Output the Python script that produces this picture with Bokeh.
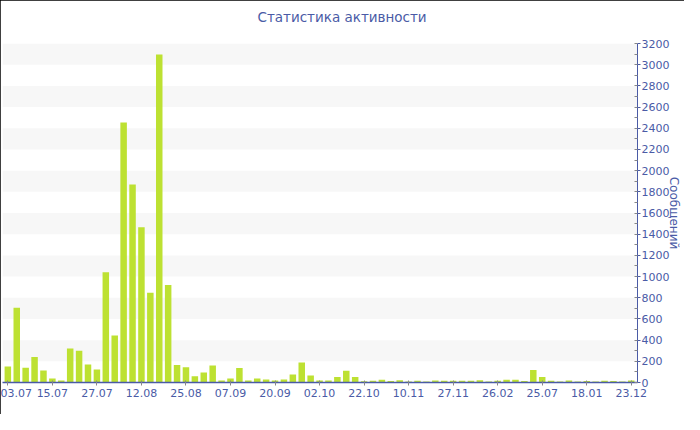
from bokeh.plotting import figure
from bokeh.models import ColumnDataSource, Range1d, FixedTicker, SingleIntervalTicker, Title
from bokeh.embed import file_html
from bokeh.resources import INLINE

# Messages per period
messages = [150, 705, 140, 240, 113, 38, 19, 320, 300, 170,
            123, 1040, 444, 2454, 1870, 1465, 847, 3095, 920, 166,
            144, 60, 94, 160, 19, 38, 138, 19, 38, 28,
            19, 28, 75, 189, 66, 19, 19, 53, 110, 53,
            12, 16, 25, 13, 22, 10, 16, 10, 19, 16,
            16, 16, 16, 22, 10, 16, 25, 25, 13, 117,
            53, 16, 10, 19, 10, 13, 10, 16, 13, 10, 19]

# Labels shown under every 5th bar
tick_labels = ["03.07", "15.07", "27.07", "12.08", "25.08", "07.09", "20.09",
               "02.10", "22.10", "10.11", "27.11", "26.02", "25.07", "18.01", "23.12"]
label_step = 5

title_text = "Статистика активности"
y_label = "Сообщений"

BLUE = "#4a5ba6"
BAR = "#bde132"
FONT = "DejaVu Sans"

idx = list(range(len(messages)))
src = ColumnDataSource(dict(x=idx, y=messages))

p = figure(width=684, height=414, output_backend="svg", toolbar_location=None,
           x_range=Range1d(-0.6, len(messages) - 1 + 0.7), y_range=Range1d(0, 3200),
           y_axis_location="right", title=title_text,
           min_border_left=2, min_border_right=0, min_border_top=43, min_border_bottom=32)

p.vbar(x="x", top="y", width=0.73, source=src, fill_color=BAR, line_color=None)

# title (centred on the whole chart, not on the plot area)
p.title.align = "left"
p.title.offset = 255
p.title.text_font = FONT
p.title.text_font_size = "13.5px"
p.title.text_font_style = "normal"
p.title.text_color = BLUE
p.title.standoff = 0
# empty spacer between the title and the plot area
p.add_layout(Title(text=" ", text_font_size="1px", standoff=16), "above")

# y axis (right)
yt = SingleIntervalTicker(interval=200, num_minor_ticks=2)
ya = p.yaxis[0]
ya.ticker = yt
ya.axis_label = y_label
ya.axis_label_text_font = FONT
ya.axis_label_text_font_size = "12px"
ya.axis_label_text_font_style = "normal"
ya.axis_label_text_color = BLUE
ya.axis_label_standoff = -5
ya.major_label_text_font = FONT
ya.major_label_text_font_size = "11px"
ya.major_label_text_color = BLUE
ya.major_label_standoff = 1
ya.axis_line_color = BLUE
ya.major_tick_line_color = BLUE
ya.minor_tick_line_color = "#888888"
ya.major_tick_out = 3
ya.major_tick_in = 0
ya.minor_tick_in = 3
ya.minor_tick_out = 0

# x axis
xa = p.xaxis[0]
xa.ticker = FixedTicker(ticks=[i * label_step for i in range(len(tick_labels))])
xa.major_label_overrides = {i * label_step: lab for i, lab in enumerate(tick_labels)}
xa.major_label_text_font = FONT
xa.major_label_text_font_size = "11px"
xa.major_label_text_color = BLUE
xa.major_label_standoff = 3
xa.axis_line_color = BLUE
xa.axis_line_width = 1.5
xa.major_tick_line_color = "#888888"
xa.major_tick_in = 2
xa.major_tick_out = 3
xa.minor_tick_line_color = None

# grid: alternating bands only
p.xgrid.visible = False
p.ygrid.ticker = yt
p.ygrid.grid_line_color = None
p.ygrid.band_fill_color = "#f7f7f7"
p.ygrid.band_fill_alpha = 1.0

p.outline_line_color = None
p.background_fill_color = "white"
p.border_fill_color = "white"
p.styles = {"outline": "1px solid black", "outline-offset": "-1px"}

open("out.html", "w").write(file_html(p, INLINE))
